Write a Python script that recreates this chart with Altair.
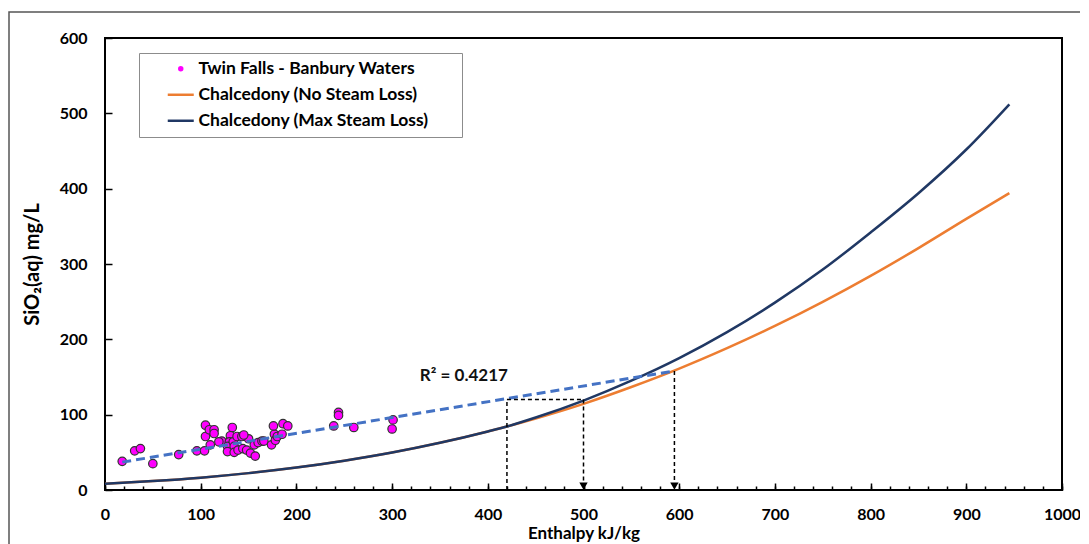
import altair as alt
import pandas as pd

# ---------------- data ----------------
sample_enthalpy = [18, 31, 37, 50, 77, 96, 104, 105, 105, 109,
                   110, 114, 114, 150, 122, 119, 133, 131, 130, 128,
                   128, 134, 135, 135, 138, 139, 143, 145, 144, 148,
                   152, 157, 156, 160, 164, 166, 174, 177, 176, 178,
                   180, 185, 186, 191, 239, 244, 244, 260, 301, 300]
sample_sio2 = [38, 52, 55, 35, 47, 52, 52, 86, 71, 80,
               60, 80, 75, 68, 65, 64, 83, 72, 64, 58,
               51, 64, 58, 50, 71, 53, 71, 73, 55, 53,
               49, 45, 60, 63, 65, 65, 60, 74, 85, 66,
               71, 74, 88, 85, 85, 103, 99, 83, 93, 81]

curve_enthalpy = [0, 50, 100, 150, 200, 250, 300, 350, 400, 420, 450,
                  500, 550, 600, 650, 700, 750, 800, 850, 900, 945]
chalc_no_loss = [8.2, 11.8, 16.4, 22.4, 29.8, 38.9, 49.7, 62.6, 77.7, 84.3, 94.9,
                 114.4, 136.7, 161.1, 188.2, 217.7, 249.7, 284.2, 321.1, 359.9, 394]
chalc_max_loss = [8.2, 11.8, 16.4, 22.4, 29.8, 38.9, 49.7, 62.6, 77.7, 84.3, 96.2,
                  118.7, 145.1, 175.1, 209.6, 248.7, 292.6, 341.9, 394, 452, 512]

trend_enthalpy = [18, 595]
trend_sio2 = [37, 158]

guide_x = [420, 420, 500, 595]
guide_x2 = [420, 500, 500, 595]
guide_y = [0, 120, 120, 158]
guide_y2 = [120, 120, 0, 0]

arrow_x = [500, 595]
arrow_y = [5, 5]

r2_label = ["R² = 0.4217"]
r2_x = [375]
r2_y = [151]

series_names = ["Twin Falls - Banbury Waters",
                "Chalcedony (No Steam Loss)",
                "Chalcedony (Max Steam Loss)"]
series_colors = ["#FF00FF", "#ED7D31", "#203864"]

x_ticks_major = list(range(0, 1001, 100))
x_ticks_minor = list(range(0, 1001, 20))
y_ticks_major = list(range(0, 601, 100))

# ---------------- tables ----------------
W, H = 957, 452
FONT = "Lato"

samples = pd.DataFrame({"h": sample_enthalpy, "s": sample_sio2,
                        "series": series_names[0]})
curves = pd.DataFrame({"h": curve_enthalpy, "no": chalc_no_loss, "mx": chalc_max_loss})
trend = pd.DataFrame({"h": trend_enthalpy, "s": trend_sio2})
guides = pd.DataFrame({"x": guide_x, "x2": guide_x2, "y": guide_y, "y2": guide_y2})
arrows = pd.DataFrame({"x": arrow_x, "y": arrow_y})
r2 = pd.DataFrame({"x": r2_x, "y": r2_y, "t": r2_label})
frame = pd.DataFrame({"a": [0]})

xs = alt.Scale(domain=[0, 1000], nice=False, zero=False)
ys = alt.Scale(domain=[0, 600], nice=False)

line_path = "M-4.75,-0.45H4.75V0.45H-4.75Z"
legend_kw = dict(title=None, orient="none", legendX=34, legendY=15, padding=7,
                 rowPadding=7, symbolSize=30, symbolOffset=26, labelOffset=9,
                 labelFont=FONT, labelFontSize=17.5, labelFontWeight="bold",
                 labelColor="#000", labelLimit=500, strokeColor="#8c8c8c",
                 fillColor="white", symbolStrokeWidth=0, symbolOpacity=1,
                 labelExpr="datum.label + '\u2800\u2800'")

# outer decorative border
border = alt.Chart(frame).mark_rect(fillOpacity=0, stroke="#555", strokeWidth=1.5).encode(
    x=alt.value(-96), x2=alt.value(1000), y=alt.value(-26), y2=alt.value(700))

scatter = alt.Chart(samples).mark_point(
    filled=True, size=72, stroke="#333", strokeWidth=1.2, opacity=1
).encode(
    x=alt.X("h:Q", scale=xs, axis=alt.Axis(
        title="Enthalpy kJ/kg", values=x_ticks_major, ticks=False, domain=False,
        grid=False, labelPadding=16, titlePadding=3, format="d", labelFlush=False)),
    y=alt.Y("s:Q", scale=ys, axis=alt.Axis(
        title="SiO₂(aq) mg/L", values=y_ticks_major, ticks=False, domain=False,
        grid=False, labelPadding=18, titlePadding=17, titleFontSize=20,
        format="d", labelFlush=False)),
    color=alt.Color("series:N", scale=alt.Scale(domain=series_names, range=series_colors),
                    legend=alt.Legend(**legend_kw)),
    shape=alt.Shape("series:N", scale=alt.Scale(domain=series_names,
                                                range=["circle", line_path, line_path]),
                    legend=alt.Legend(**legend_kw)),
)

orange = alt.Chart(curves).mark_line(color="#ED7D31", strokeWidth=2.5, interpolate="monotone").encode(
    x=alt.X("h:Q", scale=xs, axis=alt.Axis(
        orient="top", offset=-H, values=x_ticks_minor, tickSize=4, tickWidth=1.5,
        tickColor="#000", labels=False, domain=False, grid=False, title=None)),
    y=alt.Y("no:Q", scale=ys, axis=alt.Axis(
        orient="right", offset=-W, values=y_ticks_major, tickSize=7, tickWidth=1.5,
        tickColor="#000", labels=False, domain=False, grid=False, title=None)),
)

navy = alt.Chart(curves).mark_line(color="#203864", strokeWidth=2.5, interpolate="monotone").encode(
    x=alt.X("h:Q", scale=xs, axis=alt.Axis(
        orient="top", offset=-H, values=x_ticks_major, tickSize=7, tickWidth=1.5,
        tickColor="#000", labels=False, domain=False, grid=False, title=None)),
    y=alt.Y("mx:Q", scale=ys, axis=None),
)

trend_line = alt.Chart(trend).mark_line(color="#4472C4", strokeWidth=3, strokeDash=[9, 5]).encode(
    x=alt.X("h:Q", scale=xs, axis=None),
    y=alt.Y("s:Q", scale=ys, axis=None),
)

guide_lines = alt.Chart(guides).mark_rule(color="#000", strokeWidth=1.5, strokeDash=[4, 3]).encode(
    x=alt.X("x:Q", scale=xs, axis=None), x2="x2:Q",
    y=alt.Y("y:Q", scale=ys, axis=None), y2="y2:Q",
)

arrow_heads = alt.Chart(arrows).mark_point(shape="triangle-down", filled=True, size=70,
                                           color="#000", opacity=1).encode(
    x=alt.X("x:Q", scale=xs, axis=None),
    y=alt.Y("y:Q", scale=ys, axis=None),
)

r2_text = alt.Chart(r2).mark_text(font=FONT, fontSize=17, fontWeight="bold", color="#111").encode(
    x=alt.X("x:Q", scale=xs, axis=None),
    y=alt.Y("y:Q", scale=ys, axis=None),
    text="t:N",
)

chart = alt.layer(
    border, orange, navy, scatter, trend_line, guide_lines, arrow_heads, r2_text
).resolve_axis(x="independent", y="independent").properties(
    width=W, height=H,
    autosize=alt.AutoSizeParams(type="none"),
    padding={"left": 97, "top": 30, "right": 18, "bottom": 54},
    background="white",
).configure_view(
    stroke="#000", strokeWidth=2
).configure_axis(
    labelFont=FONT, labelFontSize=16, labelFontWeight="bold", labelColor="#000",
    titleFont=FONT, titleFontSize=17, titleFontWeight="bold", titleColor="#000",
)

chart.save("out.html", embed_options={"renderer": "svg", "actions": False})
